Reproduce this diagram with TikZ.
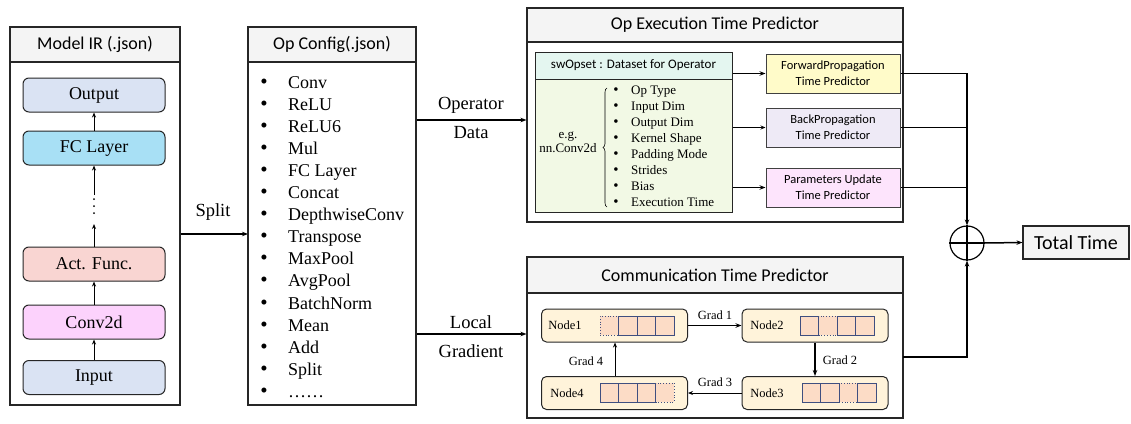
\documentclass[tikz,border=0pt]{standalone}
\usepackage{fontspec}
\setmainfont{Liberation Serif}
\newfontfamily\hdfont{Carlito}
\usetikzlibrary{arrows.meta,decorations.pathreplacing}

\definecolor{hdrfill}{HTML}{F4F4F4}
\definecolor{ioblue}{HTML}{DAE3F3}
\definecolor{fccyan}{HTML}{A8E0F5}
\definecolor{actpink}{HTML}{F9D5D2}
\definecolor{convmag}{HTML}{FCD2FC}
\definecolor{swhdr}{HTML}{E4F6F0}
\definecolor{swbody}{HTML}{F2F9E5}
\definecolor{fwdfill}{HTML}{FFFBC9}
\definecolor{backfill}{HTML}{EEEAF6}
\definecolor{parfill}{HTML}{FDE4FC}
\definecolor{nodefill}{HTML}{FFF3DA}
\definecolor{sqfill}{HTML}{FCDCC6}
\definecolor{sqdraw}{HTML}{3F4F80}

\tikzset{
  panel/.style={draw=black!85, line width=1.1pt, inner sep=0pt},
  panelhead/.style={panel, fill=hdrfill, font=\hdfont\fontsize{18}{20}\selectfont},
  layer/.style={draw=black!85, line width=1pt, rounded corners=6pt, minimum width=142pt,
                minimum height=34pt, inner sep=0pt, font=\fontsize{18}{20}\selectfont},
  listtxt/.style={anchor=base west, inner sep=0pt, font=\fontsize{18}{20}\selectfont},
  bul/.style={anchor=base, inner sep=0pt, font=\fontsize{21}{22}\selectfont},
  smalltxt/.style={anchor=base west, inner sep=0pt, font=\fontsize{13}{14}\selectfont},
  smallbul/.style={anchor=base, inner sep=0pt, font=\fontsize{15}{16}\selectfont},
  pred/.style={draw=black!75, line width=1pt, minimum width=134pt, minimum height=39pt,
               inner sep=0pt, align=center, font=\hdfont\fontsize{12.5}{16}\selectfont},
  gnode/.style={draw=black!85, line width=1pt, rounded corners=5pt, fill=nodefill,
                minimum width=146pt, minimum height=33pt, inner sep=0pt},
  sq/.style={draw=sqdraw, fill=sqfill, line width=0.8pt, minimum width=18.5pt,
             minimum height=19pt, inner sep=0pt},
  sqdot/.style={sq, dotted},
  lbl/.style={inner sep=0pt, font=\fontsize{12.5}{14}\selectfont},
  biglbl/.style={inner sep=0pt, font=\fontsize{18.5}{20}\selectfont},
  arr/.style={-{Stealth[length=5pt,width=4pt]}, line width=1pt},
  thickarr/.style={-{Stealth[length=6pt,width=4.5pt]}, line width=1.5pt},
  wire/.style={line width=1.1pt},
}

\begin{document}
\begin{tikzpicture}[x=1pt,y=-1pt]
\useasboundingbox (0,0) rectangle (1131,423);

% ---------- Model IR panel ----------
\node[panelhead, minimum width=170pt, minimum height=35pt] (irhead) at (95,44.5) {Model IR (.json)};
\node[panel, minimum width=170pt, minimum height=343pt] (irbody) at (95,233.5) {};

\node[layer, fill=ioblue]  (out)  at (94,95)    {Output};
\node[layer, fill=fccyan]  (fc)   at (94,148)   {FC Layer};
\node[layer, fill=actpink] (act)  at (94,264)   {Act. Func.};
\node[layer, fill=convmag] (conv) at (94,322)   {Conv2d};
\node[layer, fill=ioblue]  (inp)  at (94,377.5) {Input};

\coordinate (gapbot) at (94,224);
\coordinate (gaptop) at (94,195);
\draw[arr] (inp.north) -- (conv.south);
\draw[arr] (conv.north) -- (act.south);
\draw[arr] (act.north) -- (gapbot);
\draw[arr] (gaptop) -- (fc.south);
\draw[arr] (fc.north) -- (out.south);
\foreach \k/\yy in {1/199,2/206,3/213}
  \fill (94,\yy) circle (1pt) coordinate (dot\k);

% ---------- Split ----------
\coordinate (ysplit) at (0,234);
\draw[thickarr] (irbody.east |- ysplit) -- (248,234) coordinate (splitend);
\node[biglbl] (splitlbl) at (213,212) {Split};

% ---------- Op Config panel ----------
\node[panelhead, minimum width=168pt, minimum height=35pt] (ochead) at (332,44.5) {Op Config(.json)};
\node[panel, minimum width=168pt, minimum height=343pt] (ocbody) at (332,233.5) {};

\foreach \name [count=\i from 0] in {Conv,ReLU,ReLU6,Mul,FC Layer,Concat,DepthwiseConv,Transpose,MaxPool,AvgPool,BatchNorm,Mean,Add,Split,\dots\dots}{
  \pgfmathsetmacro{\yy}{88+22.1*\i}
  \node[bul] (ocb\i) at (264,\yy) {\textbullet};
  \node[listtxt] (oct\i) at (288,\yy) {\name};
}

% ---------- Op Execution Time Predictor ----------
\node[panelhead, minimum width=376pt, minimum height=34pt] (exhead) at (715,25) {Op Execution Time Predictor};
\node[panel, minimum width=376pt, minimum height=180pt] (exbody) at (715,132) {};

\node[panel, line width=1pt, fill=swhdr, minimum width=197pt, minimum height=27pt,
      font=\hdfont\fontsize{13}{14}\selectfont] (swhead) at (633.5,65.5) {swOpset : Dataset for Operator};
\node[panel, line width=1pt, fill=swbody, minimum width=197pt, minimum height=133pt] (swbody) at (633.5,145.5) {};

\node[inner sep=0pt, align=center, font=\fontsize{13}{14}\selectfont] (eg) at (568,142) {e.g.\\nn.Conv2d};
\draw[line width=0.6pt, decorate, decoration={brace, amplitude=4pt}] (607,207) -- (607,88) coordinate (bracetop);

\foreach \name [count=\i from 0] in {Op Type,Input Dim,Output Dim,Kernel Shape,Padding Mode,Strides,Bias,Execution Time}{
  \pgfmathsetmacro{\yy}{94.5+16*\i}
  \node[smallbul] (swb\i) at (616,\yy) {\textbullet};
  \node[smalltxt] (swt\i) at (631,\yy) {\name};
}

\node[pred, fill=fwdfill]  (fp)  at (833,73.5)  {ForwardPropagation\\Time Predictor};
\node[pred, fill=backfill] (bp)  at (833,127.5) {BackPropagation\\Time Predictor};
\node[pred, fill=parfill]  (pu)  at (833,187.5) {Parameters Update\\Time Predictor};

\draw[thickarr] (swbody.east |- fp.west) -- (fp.west);
\draw[arr] (swbody.east |- bp.west) -- (bp.west);
\draw[thickarr] (swbody.east |- pu.west) -- (pu.west);

% ---------- Communication Time Predictor ----------
\node[panelhead, minimum width=376pt, minimum height=36pt] (cmhead) at (715,275) {Communication Time Predictor};
\node[panel, minimum width=376pt, minimum height=125pt] (cmbody) at (715,355.5) {};

\node[gnode] (n1) at (614.5,325.5) {};
\node[gnode] (n2) at (815,325.5) {};
\node[gnode] (n3) at (815,393) {};
\node[gnode] (n4) at (614.5,393) {};

\node[lbl] (n1l) at (565,325.5) {Node1};
\node[lbl] (n2l) at (767,325.5) {Node2};
\node[lbl] (n3l) at (767,393)   {Node3};
\node[lbl] (n4l) at (567,393)   {Node4};

% gradient buffers: the dotted cell is the slot being exchanged
\node[sqdot] (a1) at (609.25,325.5) {};
\node[sq] (a2) at (627.75,325.5) {};
\node[sq] (a3) at (646.25,325.5) {};
\node[sq] (a4) at (664.75,325.5) {};

\node[sqdot] (b2) at (827.75,325.5) {};
\node[sq] (b1) at (809.25,325.5) {};
\node[sq] (b3) at (846.25,325.5) {};
\node[sq] (b4) at (864.75,325.5) {};

\node[sqdot] (c3) at (848.25,392.5) {};
\node[sq] (c1) at (811.25,392.5) {};
\node[sq] (c2) at (829.75,392.5) {};
\node[sq] (c4) at (866.75,392.5) {};

\node[sqdot] (d4) at (664.75,392.5) {};
\node[sq] (d1) at (609.25,392.5) {};
\node[sq] (d2) at (627.75,392.5) {};
\node[sq] (d3) at (646.25,392.5) {};

\coordinate (xup) at (615,0);
\draw[thickarr] (n1.east) -- (n2.west);
\draw[thickarr] (n2.south) -- (n3.north);
\draw[arr] (n3.west) -- (n4.east);
\draw[arr] (n4.north -| xup) -- (n1.south -| xup);

\node[lbl] (g1) at (715,315) {Grad 1};
\node[lbl] (g2) at (840,360) {Grad 2};
\node[lbl] (g3) at (715,382) {Grad 3};
\node[lbl] (g4) at (586,361) {Grad 4};

% ---------- inputs to the predictors ----------
\coordinate (yop) at (0,120);
\coordinate (ygr) at (0,334);
\draw[thickarr] (ocbody.east |- yop) -- (exbody.west |- yop);
\draw[thickarr] (ocbody.east |- ygr) -- (cmbody.west |- ygr);
\node[biglbl] (oplbl)   at (471,105) {Operator};
\node[biglbl] (datalbl) at (471,133) {Data};
\node[biglbl] (loclbl)  at (471,322) {Local};
\node[biglbl] (gradlbl) at (471,351) {Gradient};

% ---------- summation ----------
\node[circle, draw=black, line width=1.2pt, minimum size=34pt, inner sep=0pt] (sum) at (967,243) {};
\draw[line width=1.2pt] (sum.north) -- (sum.south);
\draw[line width=1.2pt] (sum.west) -- (sum.east);

\draw[wire, -{Stealth[length=6pt,width=4.5pt]}] (fp.east) -| (sum.north);
\draw[wire] (bp.east) -- (bp.east -| sum.north);
\draw[wire] (pu.east) -- (pu.east -| sum.north);
\coordinate (cmout) at (903,357);
\draw[wire, -{Stealth[length=6pt,width=4.5pt]}] (cmout) -| (sum.south);

\node[panel, fill=hdrfill, minimum width=106pt, minimum height=33pt,
      font=\hdfont\fontsize{20}{22}\selectfont] (total) at (1076,242.5) {Total Time};
\draw[thickarr] (sum.east) -- (total.west);
\end{tikzpicture}
\end{document}
